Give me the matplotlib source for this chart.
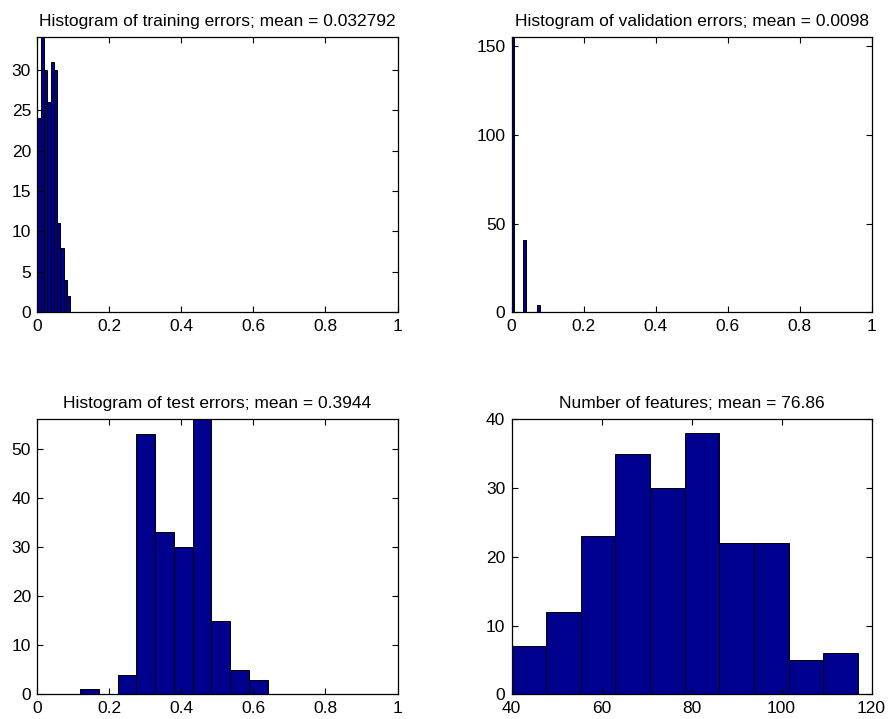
import numpy as np
import matplotlib
matplotlib.use("Agg")
import matplotlib.pyplot as plt
from matplotlib.ticker import FormatStrFormatter

# DATA ----------------------------------------------------------------------- #
train_edges = np.linspace(0.0, 0.092, 11)
train_counts = [24, 34, 30, 26, 31, 30, 11, 8, 4, 2]

valid_edges = np.linspace(0.0, 0.08, 11)
valid_counts = [155, 0, 0, 0, 41, 0, 0, 0, 0, 4]

test_edges = np.linspace(0.1185, 0.640, 11)
test_counts = [1, 0, 4, 53, 33, 30, 56, 15, 5, 3]

feat_edges = np.linspace(40, 117, 11)
feat_counts = [7, 12, 23, 35, 30, 38, 22, 22, 5, 6]

titles = [
    "Histogram of training errors; mean = 0.032792",
    "Histogram of validation errors; mean = 0.0098",
    "Histogram of test errors; mean = 0.3944",
    "Number of features; mean = 76.86",
]

# STYLE ---------------------------------------------------------------------- #
BAR_COLOR = "#00008f"
FONT_SIZE = 12.5
plt.rcParams["font.family"] = ["Liberation Sans", "DejaVu Sans"]
plt.rcParams["font.size"] = FONT_SIZE

W, H = 888, 719
fig = plt.figure(figsize=(W / 100, H / 100), dpi=100)


def make_axes(x0, y0, x1, y1):
    return fig.add_axes([x0 / W, 1 - y1 / H, (x1 - x0) / W, (y1 - y0) / H])


def draw_hist(ax, edges, counts, title, xlim, ylim, xticks, yticks):
    ax.bar(edges[:-1], counts, width=np.diff(edges), align="edge",
           color=BAR_COLOR, edgecolor="black", linewidth=0.7)
    ax.set_xlim(*xlim)
    ax.set_ylim(*ylim)
    ax.set_xticks(xticks)
    ax.set_yticks(yticks)
    ax.xaxis.set_major_formatter(FormatStrFormatter("%g"))
    ax.yaxis.set_major_formatter(FormatStrFormatter("%g"))
    ax.tick_params(direction="in", length=4, width=0.8, top=True, right=True,
                   labelsize=FONT_SIZE)
    ax.tick_params(axis="x", pad=4.5)
    ax.tick_params(axis="y", pad=4.5)
    for sp in ax.spines.values():
        sp.set_linewidth(0.9)
    ax.set_title(title, fontsize=FONT_SIZE, pad=8)


unit_ticks = [0, 0.2, 0.4, 0.6, 0.8, 1]

ax1 = make_axes(37.3, 37.3, 397.5, 312.3)
draw_hist(ax1, train_edges, train_counts, titles[0], (0, 1), (0, 34),
          unit_ticks, range(0, 31, 5))

ax2 = make_axes(511.5, 37.3, 871.5, 312.3)
draw_hist(ax2, valid_edges, valid_counts, titles[1], (0, 1), (0, 155),
          unit_ticks, [0, 50, 100, 150])

ax3 = make_axes(37.3, 419.3, 397.5, 694.3)
draw_hist(ax3, test_edges, test_counts, titles[2], (0, 1), (0, 56),
          unit_ticks, range(0, 51, 10))

ax4 = make_axes(511.5, 419.3, 871.5, 694.3)
draw_hist(ax4, feat_edges, feat_counts, titles[3], (40, 120), (0, 40),
          range(40, 121, 20), range(0, 41, 10))

fig.savefig("out.png", dpi=100)
